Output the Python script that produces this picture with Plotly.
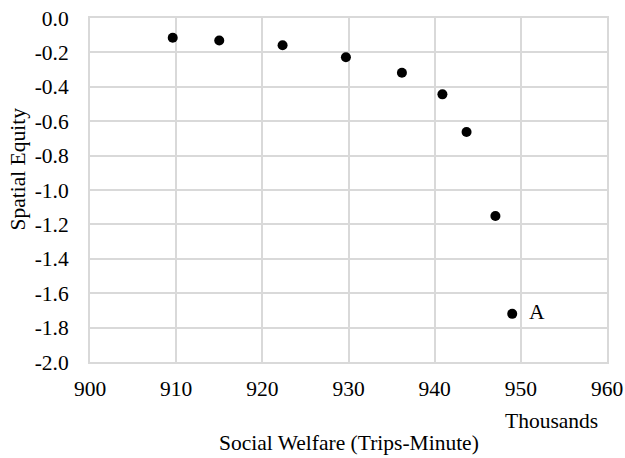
import plotly.graph_objects as go

welfare = [909.6, 915.0, 922.35, 929.7, 936.2, 940.9, 943.7, 947.05, 949.0]
equity = [-0.115, -0.131, -0.158, -0.228, -0.318, -0.444, -0.663, -1.151, -1.720]
labels = ["", "", "", "", "", "", "", "", "  A"]

x_ticks = [900, 910, 920, 930, 940, 950, 960]
y_ticks = [0.0, -0.2, -0.4, -0.6, -0.8, -1.0, -1.2, -1.4, -1.6, -1.8, -2.0]

font_family = "Liberation Serif"
fs = 21.5
grid = "#d9d9d9"

fig = go.Figure()
fig.add_trace(go.Scatter(
    x=welfare, y=equity, mode="markers+text", text=labels,
    textposition="middle right",
    textfont=dict(family=font_family, size=fs, color="black"),
    marker=dict(color="black", size=10),
    cliponaxis=False, showlegend=False, hoverinfo="skip",
))

fig.update_layout(
    width=625, height=458,
    margin=dict(l=90, r=18, t=18, b=96, autoexpand=False),
    paper_bgcolor="white", plot_bgcolor="white",
    font=dict(family=font_family, size=fs, color="black"),
    annotations=[
        dict(text="Thousands", xref="paper", yref="paper", x=0.892, y=-0.172,
             xanchor="center", yanchor="middle", showarrow=False,
             font=dict(family=font_family, size=fs, color="black")),
        dict(text="Social Welfare (Trips-Minute)", xref="paper", yref="paper",
             x=0.501, y=-0.235, xanchor="center", yanchor="middle",
             showarrow=False,
             font=dict(family=font_family, size=fs, color="black")),
        dict(text="Spatial Equity", xref="paper", yref="paper",
             x=-0.140, y=0.5615, xanchor="center", yanchor="middle",
             textangle=-90, showarrow=False,
             font=dict(family=font_family, size=fs, color="black")),
    ],
)
fig.update_xaxes(
    range=[900, 960], tickvals=x_ticks, ticktext=[str(v) for v in x_ticks],
    showgrid=True, gridcolor=grid, gridwidth=2,
    showline=True, linecolor=grid, linewidth=2, mirror=True,
    zeroline=False, ticks="", ticklabelstandoff=6, automargin=False,
    ticklabeloverflow="allow",
)
fig.update_yaxes(
    range=[-2.0, 0.0], tickvals=y_ticks, ticktext=[f"{v:.1f}" for v in y_ticks],
    showgrid=True, gridcolor=grid, gridwidth=2,
    showline=True, linecolor=grid, linewidth=2, mirror=True,
    zeroline=False, ticks="", ticklabelstandoff=15, automargin=False,
    ticklabeloverflow="allow",
)

fig.write_html(
    "out.html",
    config={"displayModeBar": False},
    post_script="document.body.style.margin='0';"
                "document.documentElement.style.overflow='hidden';",
)
